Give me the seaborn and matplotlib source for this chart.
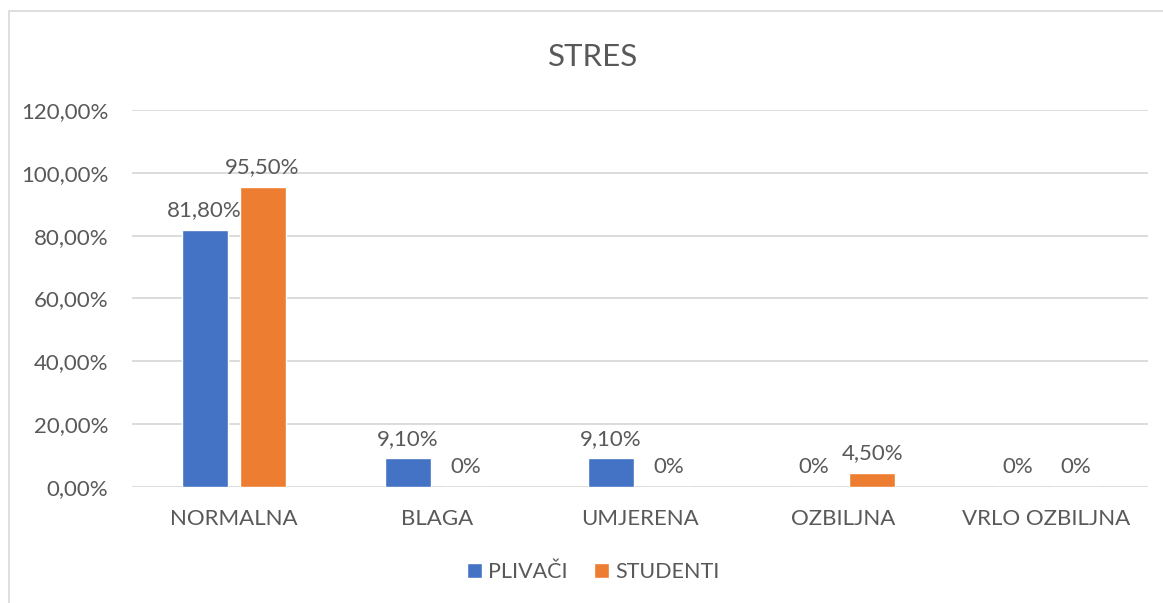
import pandas as pd
import matplotlib.pyplot as plt
import seaborn as sns
from matplotlib.patches import Rectangle

categories = ["NORMALNA", "BLAGA", "UMJERENA", "OZBILJNA", "VRLO OZBILJNA"]
plivaci = [81.8, 9.1, 9.1, 0.0, 0.0]
studenti = [95.5, 0.0, 0.0, 4.5, 0.0]
plivaci_labels = ["81,80%", "9,10%", "9,10%", "0%", "0%"]
studenti_labels = ["95,50%", "0%", "0%", "4,50%", "0%"]
y_ticks = [0, 20, 40, 60, 80, 100, 120]
y_tick_labels = ["0,00%", "20,00%", "40,00%", "60,00%", "80,00%", "100,00%", "120,00%"]

sns.set_theme(style="white")
plt.rcParams['font.family'] = ['Lato', 'DejaVu Sans']
text_col = "#595959"

df = pd.DataFrame({
    "kategorija": categories * 2,
    "vrijednost": plivaci + studenti,
    "grupa": ["PLIVAČI"] * 5 + ["STUDENTI"] * 5,
})

fig = plt.figure(figsize=(11.63, 6.03), dpi=100)
# light frame of the chart area
fig.patches.append(Rectangle((9 / 1163, -0.01), 1.1, 1 - 11 / 603 + 0.01,
                             transform=fig.transFigure, fill=False,
                             edgecolor="#D9D9D9", linewidth=1.2))
ax = fig.add_axes([0.1135, 0.1924, 0.8735, 0.6252])

sns.barplot(data=df, x="kategorija", y="vrijednost", hue="grupa",
            palette=["#4472C4", "#ED7D31"], width=0.571, gap=0.207,
            ax=ax, saturation=1, legend=True)

for cont, labs in zip(ax.containers, [plivaci_labels, studenti_labels]):
    ax.bar_label(cont, labels=labs, padding=7, fontsize=16, color=text_col)

ax.set_ylim(0, 120)
ax.set_yticks(y_ticks)
ax.set_yticklabels(y_tick_labels)
ax.yaxis.grid(True, color="#D9D9D9", linewidth=1.3)
ax.set_axisbelow(True)
for s in ax.spines.values():
    s.set_visible(False)
ax.set_xlabel("")
ax.set_ylabel("")
ax.tick_params(axis="both", length=0, labelsize=16, colors=text_col)
ax.tick_params(axis="y", pad=17)
ax.tick_params(axis="x", pad=16)

fig.text(0.51, 1 - 57 / 603, "STRES", ha="center", va="center",
         fontsize=22.5, color=text_col)

leg = ax.legend(loc="center", bbox_transform=fig.transFigure,
                bbox_to_anchor=(0.51, 1 - 572 / 603), ncol=2, frameon=False,
                fontsize=15.5, handlelength=0.7, handleheight=0.7,
                handletextpad=0.3, columnspacing=1.2)
for t in leg.get_texts():
    t.set_color(text_col)

fig.savefig("out.png", dpi=100)
